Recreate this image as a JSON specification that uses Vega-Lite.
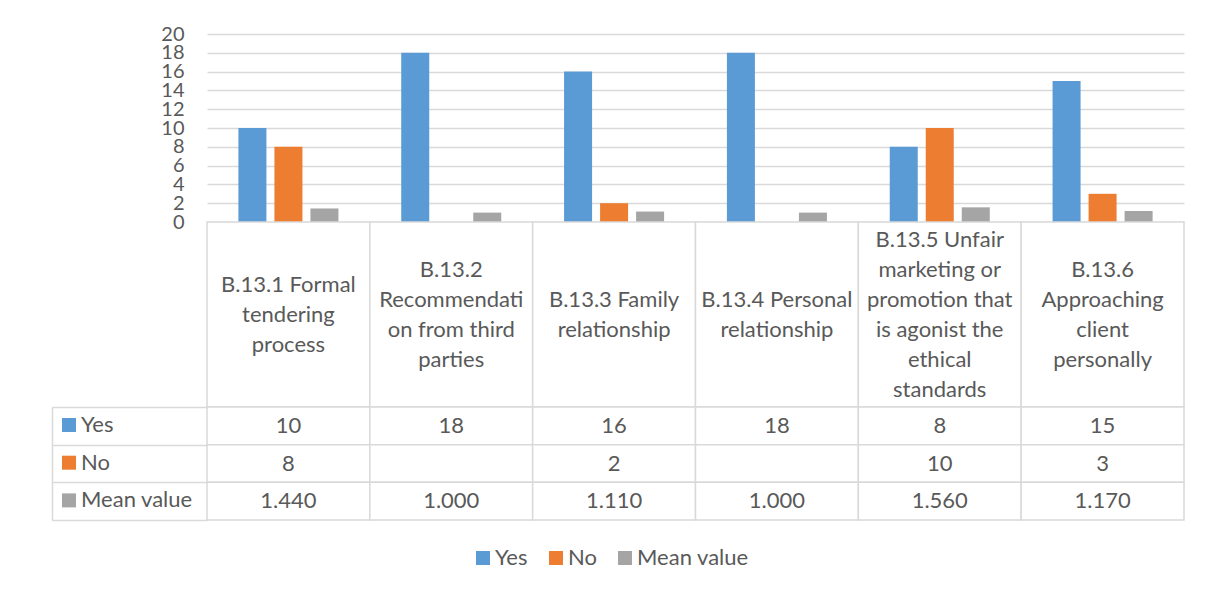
{
  "$schema": "https://vega.github.io/schema/vega-lite/v6.json",
  "padding": {"left": 51, "top": 24, "right": 0, "bottom": 0},
  "bounds": "flush",
  "spacing": 0,
  "config": {
    "font": "Lato",
    "view": {"stroke": null}
  },
  "datasets": {
    "counts": [
      {"item": "B.13.1 Formal tendering process", "series": "Yes", "value": 10},
      {"item": "B.13.1 Formal tendering process", "series": "No", "value": 8},
      {"item": "B.13.1 Formal tendering process", "series": "Mean value", "value": 1.44},
      {"item": "B.13.2 Recommendation from third parties", "series": "Yes", "value": 18},
      {"item": "B.13.2 Recommendation from third parties", "series": "No", "value": null},
      {"item": "B.13.2 Recommendation from third parties", "series": "Mean value", "value": 1.0},
      {"item": "B.13.3 Family relationship", "series": "Yes", "value": 16},
      {"item": "B.13.3 Family relationship", "series": "No", "value": 2},
      {"item": "B.13.3 Family relationship", "series": "Mean value", "value": 1.11},
      {"item": "B.13.4 Personal relationship", "series": "Yes", "value": 18},
      {"item": "B.13.4 Personal relationship", "series": "No", "value": null},
      {"item": "B.13.4 Personal relationship", "series": "Mean value", "value": 1.0},
      {"item": "B.13.5 Unfair marketing or promotion that is agonist the ethical standards", "series": "Yes", "value": 8},
      {"item": "B.13.5 Unfair marketing or promotion that is agonist the ethical standards", "series": "No", "value": 10},
      {"item": "B.13.5 Unfair marketing or promotion that is agonist the ethical standards", "series": "Mean value", "value": 1.56},
      {"item": "B.13.6 Approaching client personally", "series": "Yes", "value": 15},
      {"item": "B.13.6 Approaching client personally", "series": "No", "value": 3},
      {"item": "B.13.6 Approaching client personally", "series": "Mean value", "value": 1.17}
    ],
    "items": [
      {"item": "B.13.1 Formal tendering process", "label": "B.13.1 Formal\ntendering\nprocess"},
      {"item": "B.13.2 Recommendation from third parties", "label": "B.13.2\nRecommendati\non from third\nparties"},
      {"item": "B.13.3 Family relationship", "label": "B.13.3 Family\nrelationship"},
      {"item": "B.13.4 Personal relationship", "label": "B.13.4 Personal\nrelationship"},
      {"item": "B.13.5 Unfair marketing or promotion that is agonist the ethical standards", "label": "B.13.5 Unfair\nmarketing or\npromotion that\nis agonist the\nethical\nstandards"},
      {"item": "B.13.6 Approaching client personally", "label": "B.13.6\nApproaching\nclient\npersonally"}
    ]
  },
  "resolve": {"scale": {"x": "shared", "color": "shared"}, "legend": {"color": "independent"}},
  "vconcat": [
    {
      "width": 977,
      "height": 188,
      "data": {"name": "counts"},
      "mark": {"type": "bar"},
      "encoding": {
        "x": {
          "field": "item", "type": "nominal", "axis": null,
          "scale": {
            "domain": [
              "B.13.1 Formal tendering process",
              "B.13.2 Recommendation from third parties",
              "B.13.3 Family relationship",
              "B.13.4 Personal relationship",
              "B.13.5 Unfair marketing or promotion that is agonist the ethical standards",
              "B.13.6 Approaching client personally"
            ],
            "paddingInner": 0, "paddingOuter": 0
          }
        },
        "xOffset": {
          "field": "series", "type": "nominal",
          "scale": {"domain": ["Yes", "No", "Mean value"], "paddingInner": 0.222, "paddingOuter": 0.872}
        },
        "y": {
          "field": "value", "type": "quantitative",
          "scale": {"domain": [0, 20], "nice": false},
          "axis": {
            "title": null,
            "values": [0, 2, 4, 6, 8, 10, 12, 14, 16, 18, 20],
            "labelOverlap": false,
            "domain": false,
            "ticks": false,
            "grid": true,
            "gridColor": "#D9D9D9",
            "gridWidth": 1.5,
            "labelFontSize": 20,
            "labelColor": "#595959",
            "labelPadding": 23
          }
        },
        "color": {
          "field": "series", "type": "nominal",
          "scale": {"domain": ["Yes", "No", "Mean value"], "range": ["#5B9BD5", "#ED7D31", "#A5A5A5"]},
          "legend": {
            "title": null,
            "orient": "none",
            "direction": "horizontal",
            "legendX": 265,
            "legendY": 513,
            "padding": 0,
            "symbolType": "square",
            "symbolSize": 196,
            "symbolStrokeWidth": 0,
            "labelFontSize": 22,
            "labelColor": "#595959",
            "labelOffset": 1,
            "columnPadding": 17
          }
        }
      }
    },
    {
      "width": 977,
      "height": 185,
      "data": {"name": "items"},
      "encoding": {
        "x": {"field": "item", "type": "nominal", "axis": null}
      },
      "layer": [
        {"mark": {"type": "rect", "fill": "white", "stroke": "#D9D9D9", "strokeWidth": 1.5}},
        {
          "mark": {
            "type": "text", "fontSize": 22, "color": "#595959", "lineBreak": "\n", "lineHeight": 30,
            "dy": {"expr": "-(length(split(datum.label, '\\n')) - 1) * 15"}
          },
          "encoding": {"text": {"field": "label"}}
        }
      ]
    },
    {
      "width": 977,
      "height": 113,
      "data": {"name": "counts"},
      "transform": [
        {
          "calculate": "datum.value == null ? '' : (datum.series == 'Mean value' ? format(datum.value, '.3f') : format(datum.value, 'd'))",
          "as": "shown"
        }
      ],
      "encoding": {
        "x": {"field": "item", "type": "nominal", "axis": null}
      },
      "layer": [
        {
          "mark": {"type": "rect", "fill": "white", "stroke": "#D9D9D9", "strokeWidth": 1.5},
          "encoding": {
            "y": {
              "field": "series", "type": "nominal",
              "scale": {"domain": ["Yes", "No", "Mean value"], "paddingInner": 0, "paddingOuter": 0},
              "axis": {
                "title": null,
                "orient": "left",
                "tickBand": "extent",
                "tickSize": 155,
                "tickColor": "#D9D9D9",
                "tickWidth": 1.5,
                "labels": false,
                "domain": false
              }
            }
          }
        },
        {
          "mark": {"type": "text", "fontSize": 22, "color": "#595959"},
          "encoding": {
            "y": {
              "field": "series", "type": "nominal",
              "axis": {
                "title": null,
                "orient": "left",
                "offset": 155,
                "domain": true,
                "domainColor": "#D9D9D9",
                "domainWidth": 1.5,
                "ticks": false,
                "labels": false
              }
            },
            "text": {"field": "shown"}
          }
        },
        {
          "mark": {"type": "point", "filled": true, "opacity": 0},
          "encoding": {
            "y": {"field": "series", "type": "nominal", "axis": null},
            "color": {
              "field": "series", "type": "nominal",
              "legend": {
                "title": null,
                "orient": "none",
                "direction": "vertical",
                "legendX": -149,
                "legendY": 7,
                "padding": 0,
                "symbolType": "square",
                "symbolSize": 196,
                "symbolOpacity": 1,
                "symbolStrokeWidth": 0,
                "labelFontSize": 22,
                "labelColor": "#595959",
                "labelOffset": 1,
                "rowPadding": 15.7
              }
            }
          }
        }
      ],
      "resolve": {"axis": {"y": "independent"}}
    }
  ]
}
